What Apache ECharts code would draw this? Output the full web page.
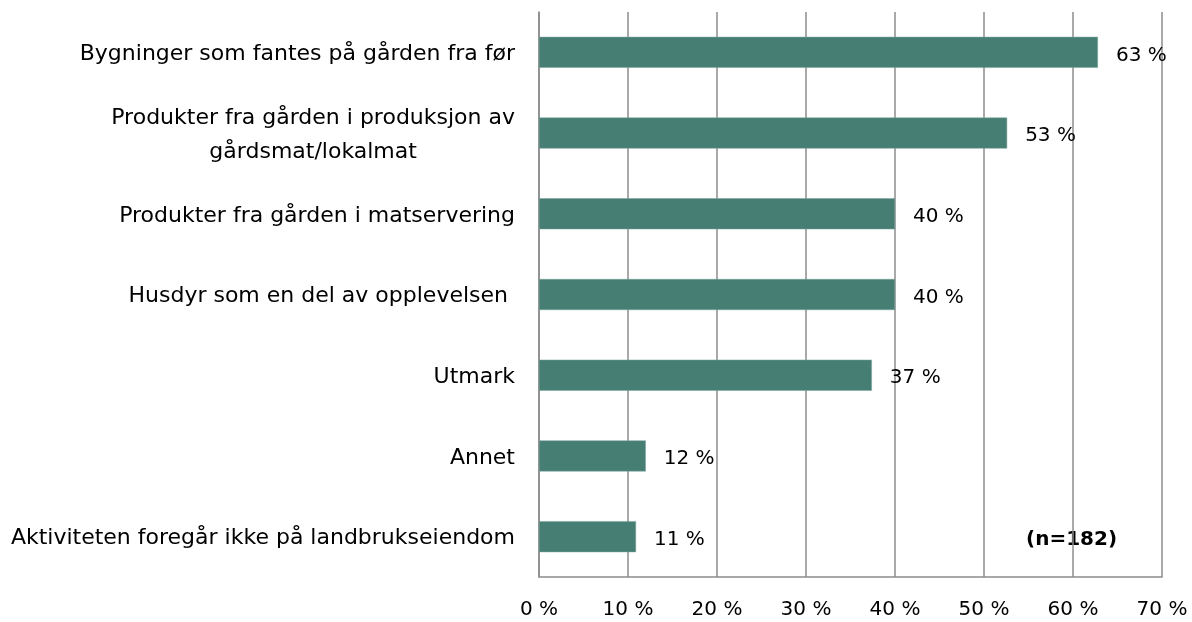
<!DOCTYPE html>
<html>
<head>
<meta charset="utf-8">
<script src="https://cdn.jsdelivr.net/npm/echarts@6/dist/echarts.min.js"></script>
<style>
	html, body { margin: 0; padding: 0; background: #fff; }
	#chart { width: 1192px; height: 622px; }
</style>
</head>
<body>
<div id="chart"></div>
<script>
// kategorier, ovenfra og ned
const categories = [
	'Bygninger som fantes på gården fra før',
	'Produkter fra gården i produksjon av\ngårdsmat/lokalmat',
	'Produkter fra gården i matservering',
	'Husdyr som en del av opplevelsen ',
	'Utmark',
	'Annet',
	'Aktiviteten foregår ikke på landbrukseiendom'
]
const values = [62.8, 52.6, 40.0, 40.0, 37.4, 12.0, 10.9]
const valueLabels = ['63 %', '53 %', '40 %', '40 %', '37 %', '12 %', '11 %']
const note = '(n=182)'

const font = '"DejaVu Sans", sans-serif'
const grey = '#8c8c8c'

const chart = echarts.init(document.getElementById('chart'))
chart.setOption({
	backgroundColor: '#fff',
	animation: false,
	grid: { left: 539, right: 30, top: 12, bottom: 45 },
	xAxis: {
		type: 'value',
		min: 0,
		max: 70,
		interval: 10,
		axisLine: { show: true, lineStyle: { color: grey, width: 1.5 } },
		axisTick: { show: false },
		splitLine: { show: true, lineStyle: { color: grey, width: 1.5 } },
		axisLabel: {
			margin: 23,
			color: '#000',
			fontFamily: font,
			fontSize: 20,
			formatter: v => v + ' %'
		}
	},
	yAxis: {
		type: 'category',
		inverse: true,
		data: categories,
		axisLine: { show: true, lineStyle: { color: grey, width: 1.5 } },
		axisTick: { show: false },
		axisLabel: {
			margin: 24,
			color: '#000',
			fontFamily: font,
			fontSize: 22,
			lineHeight: 34,
			padding: [4, 0, 0, 0],
			formatter: s => s.split('\n').map(l => '{c|' + l + '}').join('\n'),
			rich: {
				c: { align: 'center', fontFamily: font, fontSize: 22, lineHeight: 34, color: '#000' }
			}
		}
	},
	series: [{
		type: 'bar',
		data: values,
		barWidth: 31,
		itemStyle: { color: '#467e74', borderColor: '#7aa59c', borderWidth: 0.5 },
		label: {
			show: true,
			position: 'right',
			distance: 18,
			offset: [0, 3],
			color: '#000',
			fontFamily: font,
			fontSize: 20,
			formatter: p => valueLabels[p.dataIndex]
		}
	}],
	graphic: [{
		type: 'text',
		left: 1026,
		top: 530,
		style: {
			text: note,
			fill: '#000',
			font: 'bold 20px ' + font
		}
	}]
})
</script>
</body>
</html>
